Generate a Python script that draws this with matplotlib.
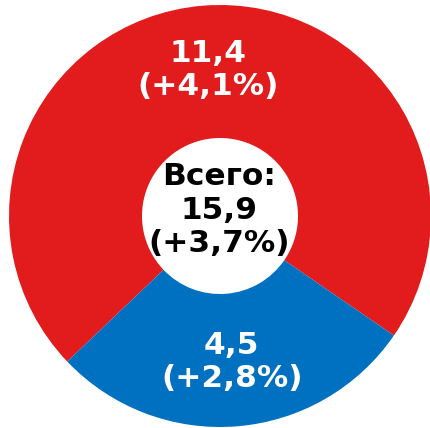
import matplotlib.pyplot as plt
import numpy as np

# ---------------- DATA ----------------
values = [11.4, 4.5]
changes = ["+4,1%", "+2,8%"]
colors = ["#E21B1D", "#0071C1"]
total = 15.9
total_change = "+3,7%"
# --------------------------------------

def fmt(v):
    return f"{v:.1f}".replace(".", ",")

fig = plt.figure(figsize=(4.30, 4.28), dpi=100)
ax = fig.add_axes([0, 0, 1, 1])

cx, cy, r, hole = 220, 212, 211, 78
wedges, _ = ax.pie(values, colors=colors, startangle=325.5, counterclock=True,
                   center=(cx, cy), radius=r,
                   wedgeprops=dict(width=r - hole, linewidth=0))

# slice labels
for w, v, ch in zip(wedges, values, changes):
    mid = np.deg2rad((w.theta1 + w.theta2) / 2)
    d = 0.695 * r
    ax.text(cx + d * np.cos(mid), cy + d * np.sin(mid), f"{fmt(v)}\n({ch})",
            ha="center", va="center", color="white", fontsize=22.5,
            fontweight="bold", family="DejaVu Sans", linespacing=1.2)

# centre label
ax.text(cx - 1, cy + 6, f"Всего:\n{fmt(total)}\n({total_change})",
        ha="center", va="center", color="black", fontsize=22.5,
        fontweight="bold", family="DejaVu Sans", linespacing=1.2)

ax.set_xlim(0, 430)
ax.set_ylim(0, 428)
ax.set_aspect("equal")
ax.axis("off")

fig.savefig("out.png", dpi=100)
